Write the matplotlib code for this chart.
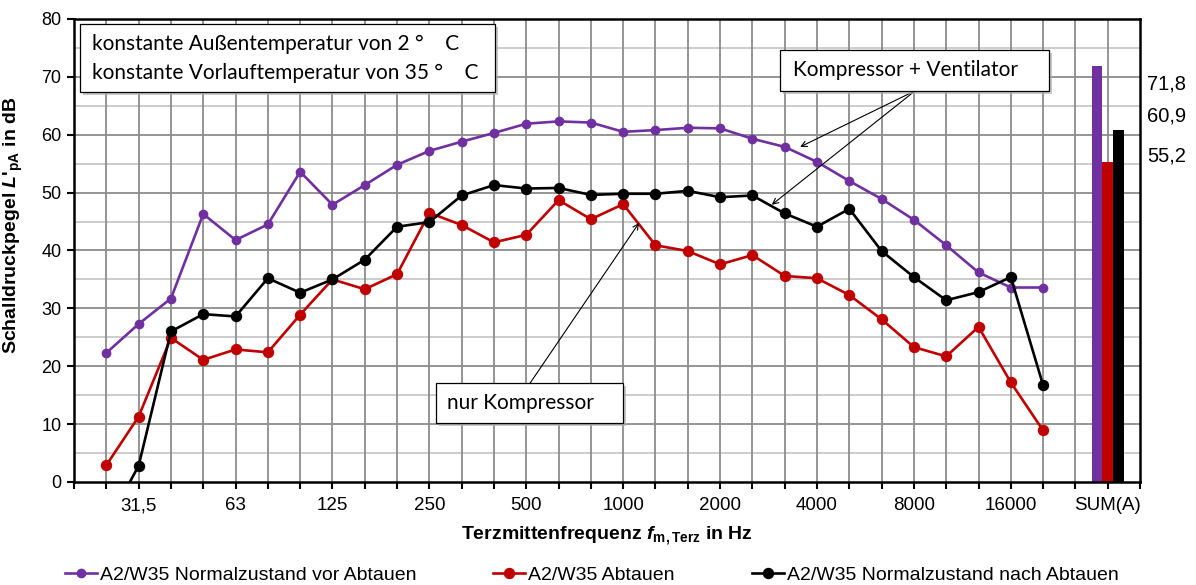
#!/usr/bin/env python3
"""Terzspektrum des Schalldruckpegels einer Wärmepumpe (A2/W35) mit Summenpegeln."""

import matplotlib as mpl
mpl.use("Agg")
import matplotlib.pyplot as plt
from matplotlib.lines import Line2D
from matplotlib.patches import Rectangle
import matplotlib.patheffects as pe


# third-octave band centre frequencies (German decimal comma)
BANDS = ["25", "31,5", "40", "50", "63", "80", "100", "125", "160", "200",
         "250", "315", "400", "500", "630", "800", "1000", "1250", "1600", "2000",
         "2500", "3150", "4000", "5000", "6300", "8000", "10000", "12500", "16000", "20000"]

VOR_ABTAUEN = [22.3, 27.3, 31.7, 46.3, 41.8, 44.5, 53.6, 47.9, 51.3, 54.8,
               57.2, 58.8, 60.3, 61.9, 62.3, 62.1, 60.5, 60.8, 61.2, 61.1,
               59.3, 57.9, 55.3, 52.0, 48.9, 45.3, 40.9, 36.2, 33.6, 33.6]
ABTAUEN = [2.9, 11.3, 24.9, 21.1, 22.9, 22.4, 28.9, 35.0, 33.3, 35.9,
           46.5, 44.4, 41.4, 42.7, 48.7, 45.4, 48.0, 40.9, 39.9, 37.6,
           39.2, 35.6, 35.2, 32.3, 28.1, 23.3, 21.7, 26.8, 17.2, 8.9]
NACH_ABTAUEN = [-7.5, 2.8, 26.0, 29.0, 28.6, 35.2, 32.7, 35.0, 38.4, 44.1,
                44.9, 49.5, 51.3, 50.7, 50.8, 49.6, 49.8, 49.8, 50.3, 49.2,
                49.5, 46.4, 44.1, 47.2, 39.9, 35.4, 31.4, 32.8, 35.4, 16.7]

SUM_LABEL = "SUM(A)"
SUM_VALUES = [71.8, 55.2, 60.9]  # vor Abtauen, Abtauen, nach Abtauen

SERIES_NAMES = ["A2/W35 Normalzustand vor Abtauen",
                "A2/W35 Abtauen",
                "A2/W35 Normalzustand nach Abtauen"]

PALETTE = {
    "vor": "#7030A0",
    "ab": "#C00000",
    "nach": "#000000",
    "grid_major": "#8C8C8C",
    "grid_minor": "#C8C8C8",
}

mpl.rcParams.update({
    "font.family": ["Liberation Sans", "DejaVu Sans"],
    "mathtext.fontset": "custom",
    "mathtext.rm": "Liberation Sans",
    "mathtext.it": "Liberation Sans:italic",
    "mathtext.bf": "Liberation Sans:bold",
    "mathtext.bfit": "Liberation Sans:bold:italic",
})

BOX_FONT = ["Lato", "DejaVu Sans"]


def add_box(ax, x0, y0, x1, y1):
    rect = Rectangle((x0, y0), x1 - x0, y1 - y0, facecolor="white", edgecolor="black",
                     lw=0.9, zorder=6)
    rect.set_path_effects([pe.SimplePatchShadow(offset=(2, -2), shadow_rgbFace="#B0B0B0", alpha=0.7),
                           pe.Normal()])
    ax.add_patch(rect)


def main():
    fig = plt.figure(figsize=(11.96, 5.85), dpi=100)
    ax = fig.add_axes([0.0619, 0.1761, 0.8913, 0.7915])

    xs = list(range(1, len(BANDS) + 1))
    n_slots = len(BANDS) + 3
    sum_pos = len(BANDS) + 2

    # grid: light 5 dB lines, darker 10 dB lines, a line for every band
    for y in range(5, 80, 10):
        ax.axhline(y, color=PALETTE["grid_minor"], lw=1.3, zorder=0)
    for y in range(10, 80, 10):
        ax.axhline(y, color=PALETTE["grid_major"], lw=1.3, zorder=0.5)
    for x in range(1, n_slots):
        ax.axvline(x, color=PALETTE["grid_major"], lw=1.3, zorder=0.5)

    ax.plot(xs, VOR_ABTAUEN, color=PALETTE["vor"], lw=1.9, marker="o", ms=6.0, zorder=3)
    ax.plot(xs, ABTAUEN, color=PALETTE["ab"], lw=1.9, marker="o", ms=7.2, zorder=3.1)
    ax.plot(xs, NACH_ABTAUEN, color=PALETTE["nach"], lw=1.9, marker="o", ms=7.2, zorder=3.2)

    # summed A-weighted levels as three narrow bars
    bar_w = 1 / 3
    colors = [PALETTE["vor"], PALETTE["ab"], PALETTE["nach"]]
    for i, (val, c) in enumerate(zip(SUM_VALUES, colors)):
        ax.bar(sum_pos + (i - 1) * bar_w, val, width=bar_w, color=c, zorder=2)

    ax.set_xlim(0, n_slots)
    ax.set_ylim(0, 80)
    ax.set_xticks(range(0, n_slots + 1))
    tick_labels = [""] * (n_slots + 1)
    for i, b in enumerate(BANDS, start=1):
        if i % 3 == 2:
            tick_labels[i] = b
    tick_labels[sum_pos] = SUM_LABEL
    ax.set_xticklabels(tick_labels)
    ax.set_yticks(range(0, 81, 10))
    ax.tick_params(axis="both", direction="out", length=5, width=1.5, colors="black")
    ax.tick_params(axis="x", pad=6, labelsize=13.5)
    ax.tick_params(axis="y", pad=4, labelsize=13)
    for s in ax.spines.values():
        s.set_linewidth(1.8)
        s.set_color("black")
        s.set_zorder(5)

    ax.set_xlabel(r"Terzmittenfrequenz $\mathbfit{f}_{\mathbf{m,Terz}}$ in Hz",
                  fontsize=14, fontweight="bold", labelpad=7)
    ax.set_ylabel(r"Schalldruckpegel $\mathbfit{L}$'$_{\mathbf{pA}}$ in dB",
                  fontsize=14, fontweight="bold")
    ax.yaxis.set_label_coords(-0.046, 0.555)

    # value labels for the summed levels, to the right of the plot
    for val, yf in zip(sorted(SUM_VALUES, reverse=True), [0.856, 0.802, 0.733]):
        fig.text(0.959, yf, f"{val:.1f}".replace(".", ","), fontsize=14.5, va="center")

    # operating condition box
    add_box(ax, 0.19, 67.4, 13.03, 79.1)
    ax.text(0.56, 75.6, "konstante Außentemperatur von 2 °    C", fontsize=15,
            family=BOX_FONT, va="center", zorder=7)
    ax.text(0.56, 70.6, "konstante Vorlauftemperatur von 35 °    C", fontsize=15,
            family=BOX_FONT, va="center", zorder=7)

    # callouts
    arrow = dict(arrowstyle="->", color="black", lw=0.8, shrinkA=0, shrinkB=0)
    add_box(ax, 21.86, 67.6, 30.19, 74.6)
    ax.text(22.26, 71.1, "Kompressor + Ventilator", fontsize=15, family=BOX_FONT,
            ha="left", va="center", zorder=7)
    ax.annotate("", xy=(22.48, 57.9), xytext=(26.04, 67.6), arrowprops=arrow, zorder=4)
    ax.annotate("", xy=(21.6, 47.9), xytext=(26.04, 67.6), arrowprops=arrow, zorder=4)

    add_box(ax, 11.2, 10.2, 17.0, 17.1)
    ax.text(11.55, 13.65, "nur Kompressor", fontsize=15, family=BOX_FONT,
            ha="left", va="center", zorder=7)
    ax.annotate("", xy=(17.49, 44.75), xytext=(14.12, 17.1), arrowprops=arrow, zorder=4)

    # legend entries spread along the bottom
    legend_x = [0.054, 0.412, 0.629]
    for name, c, lx, ms in zip(SERIES_NAMES, colors, legend_x, [6.0, 7.2, 7.2]):
        handle = Line2D([], [], color=c, lw=1.9, marker="o", ms=ms)
        fig.legend([handle], [name], loc="center left", bbox_to_anchor=(lx, 0.017),
                   frameon=False, fontsize=14, handlelength=1.65, handletextpad=0.15,
                   borderaxespad=0, borderpad=0)

    fig.savefig("out.png", dpi=100)
    plt.close(fig)


if __name__ == "__main__":
    main()
